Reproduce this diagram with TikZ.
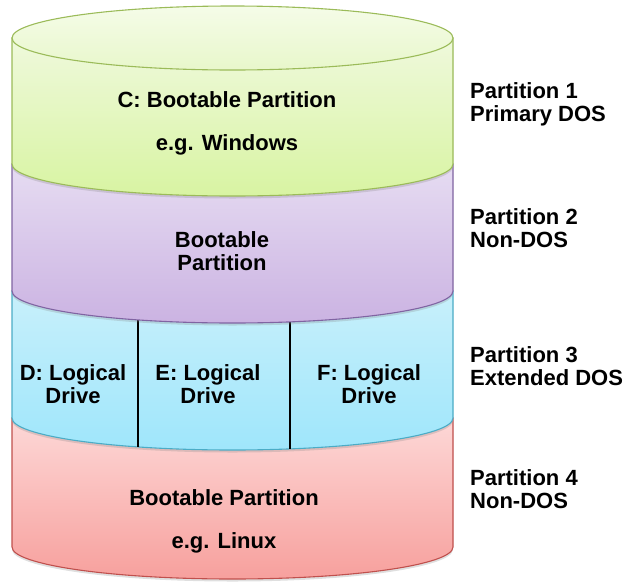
\documentclass[tikz,border=0pt]{standalone}
\usepackage{fontspec}
\setmainfont{Liberation Sans}
\usetikzlibrary{shadows}
\definecolor{gT}{HTML}{EFF9DC}\definecolor{gB}{HTML}{D8F4A2}\definecolor{gE}{HTML}{9BBB59}
\definecolor{gTa}{HTML}{F5FCE8}\definecolor{gTb}{HTML}{E8F7CB}
\definecolor{pT}{HTML}{E6DCF2}\definecolor{pB}{HTML}{CBB3E2}\definecolor{pE}{HTML}{8064A2}
\definecolor{bT}{HTML}{C8F0FB}\definecolor{bB}{HTML}{9FE6FB}\definecolor{bE}{HTML}{4BACC6}
\definecolor{rT}{HTML}{FDD8D7}\definecolor{rB}{HTML}{F7A09D}\definecolor{rE}{HTML}{C0504D}
\begin{document}
\begin{tikzpicture}[x=1pt,y=1pt,
  lbl/.style={font=\fontsize{22}{23}\selectfont\bfseries, inner sep=0pt, align=center},
  side/.style={font=\fontsize{22}{23}\selectfont\bfseries, inner sep=0pt, align=left, anchor=west},
  seg/.style={line width=1.1pt, drop shadow={opacity=0.25, shadow xshift=0pt, shadow yshift=-2.5pt}},
  divider/.style={line width=1.4pt, black}]
\useasboundingbox (0,0) rectangle (624,-582);
% red
\path[seg, draw=rE, top color=rT, bottom color=rB]
  (12,-418) -- (12,-547) arc[start angle=180,end angle=360,x radius=220.5,y radius=32] -- (453,-418) -- cycle;
% blue
\path[seg, draw=bE, top color=bT, bottom color=bB]
  (12,-291) -- (12,-418) arc[start angle=180,end angle=360,x radius=220.5,y radius=32] -- (453,-291) -- cycle;
\coordinate (d1t) at (138,-319.9);
\coordinate (d1b) at (138,-446.9);
\coordinate (d2t) at (290,-321.9);
\coordinate (d2b) at (290,-448.9);
\draw[divider] (d1t) -- (d1b);
\draw[divider] (d2t) -- (d2b);
% purple
\path[seg, draw=pE, top color=pT, bottom color=pB]
  (12,-164) -- (12,-291) arc[start angle=180,end angle=360,x radius=220.5,y radius=32] -- (453,-164) -- cycle;
% green
\path[seg, draw=gE, top color=gT, bottom color=gB]
  (12,-38) -- (12,-164) arc[start angle=180,end angle=360,x radius=220.5,y radius=32] -- (453,-38) -- cycle;
\path[draw=gE, line width=1.1pt, top color=gTa, bottom color=gTb]
  (232.5,-38) ellipse[x radius=220.5, y radius=32];
% texts
\node[lbl] (c1) at (227,-100) {C: Bootable Partition};
\node[lbl] (c2) at (227,-145) {e.g. Windows};
\node[lbl] (p2) at (222,-251.5) {Bootable\\Partition};
\node[lbl] (d) at (73,-384.5) {D: Logical\\Drive};
\node[lbl] (e) at (208,-384.5) {E: Logical\\Drive};
\node[lbl] (f) at (369,-384.5) {F: Logical\\Drive};
\node[lbl] (r1) at (224,-498) {Bootable Partition};
\node[lbl] (r2) at (224,-543) {e.g. Linux};
\node[side] (s1) at (470,-104.5) {Partition 1\\Primary DOS};
\node[side] (s2) at (470,-228.5) {Partition 2\\Non-DOS};
\node[side] (s3) at (470,-366.5) {Partition 3\\Extended DOS};
\node[side] (s4) at (470,-489) {Partition 4\\Non-DOS};
\end{tikzpicture}
\end{document}
